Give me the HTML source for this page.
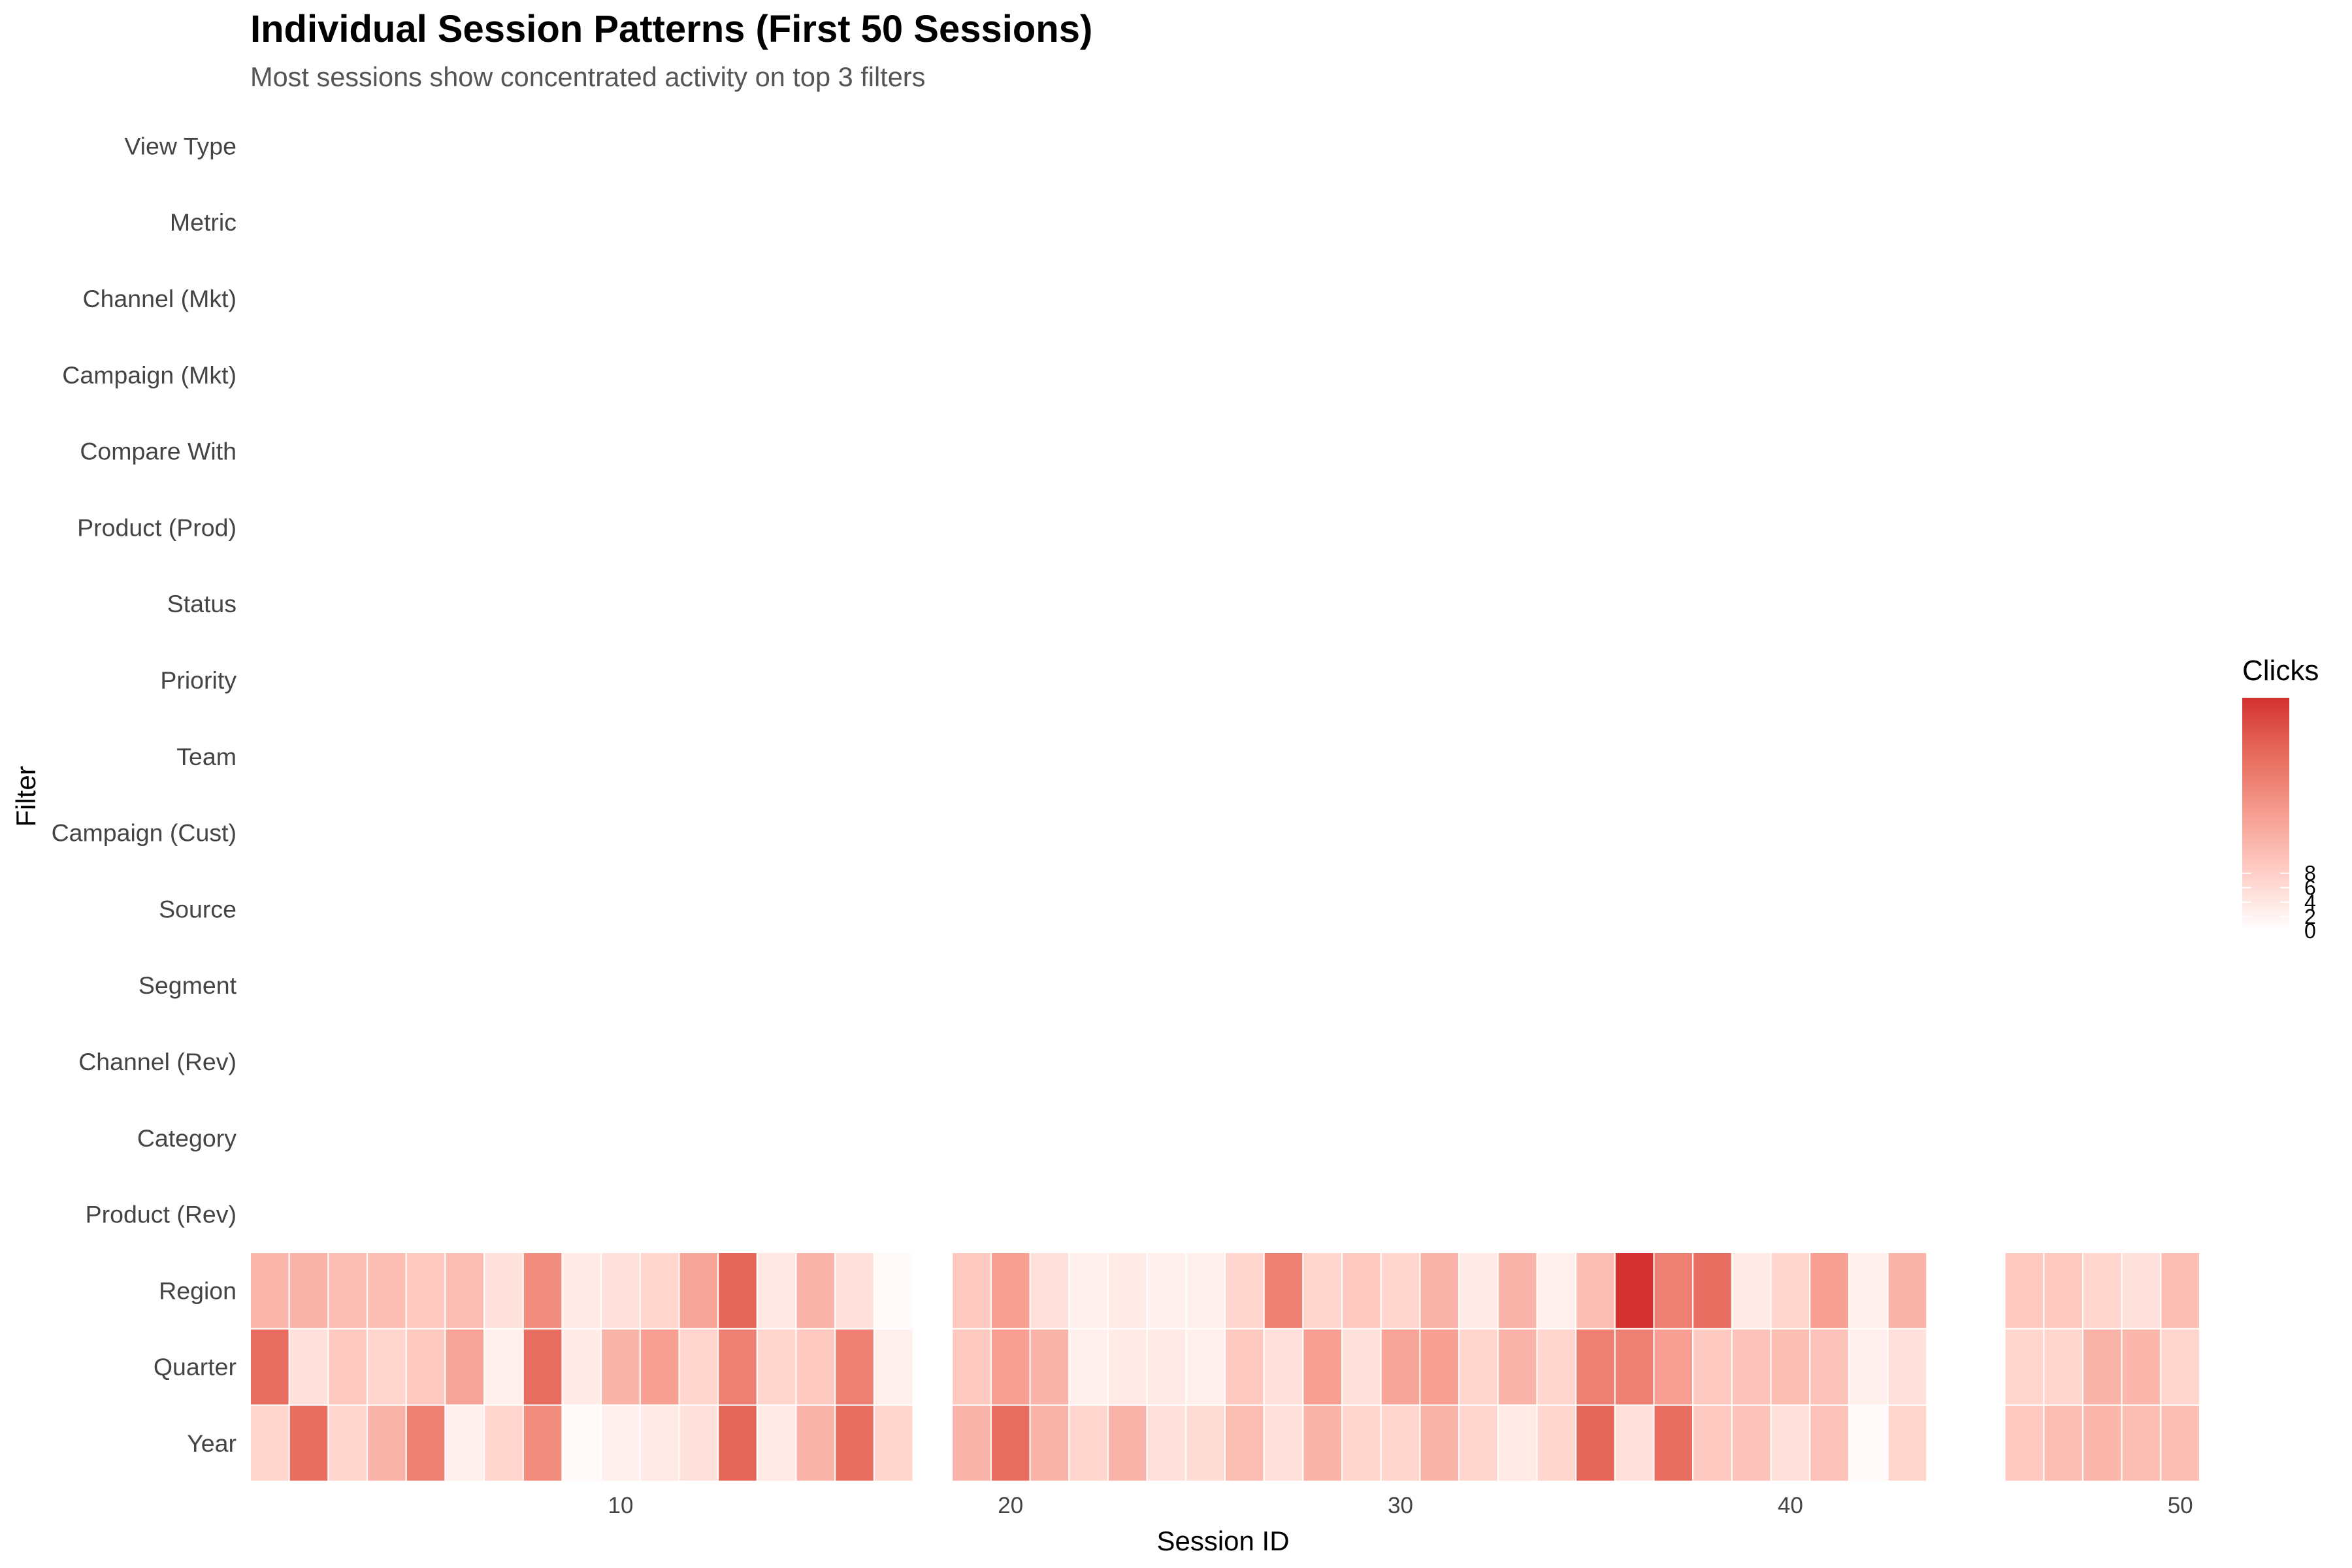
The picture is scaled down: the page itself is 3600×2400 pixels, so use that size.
<!DOCTYPE html>
<html><head><meta charset="utf-8"><style>
html,body{margin:0;padding:0;background:#fff;}
svg{display:block;font-family:"Liberation Sans",Arial,sans-serif;}
</style></head><body>
<svg id="chart" width="3600" height="2400" viewBox="0 0 3600 2400" xmlns="http://www.w3.org/2000/svg">
<text x="383" y="64" font-size="58" font-weight="bold" fill="#000">Individual Session Patterns (First 50 Sessions)</text>
<text x="383" y="132" font-size="41.5" fill="#555">Most sessions show concentrated activity on top 3 filters</text>
<g id="cells"></g>
<g id="ylabels"></g>
<g id="xlabels"></g>
<text x="1872" y="2373" font-size="42" text-anchor="middle" fill="#000">Session ID</text>
<text transform="translate(54,1219) rotate(-90)" font-size="42" text-anchor="middle" fill="#000">Filter</text>
<g id="legend">
<text x="3432" y="1041" font-size="44" fill="#000">Clicks</text>
<defs><linearGradient id="grad" x1="0" y1="1" x2="0" y2="0"></linearGradient></defs>
<rect x="3432" y="1068" width="72" height="357" fill="url(#grad)"/>
<g id="legticks"></g>
</g>
</svg>
<script>
const filters = ["Year","Quarter","Region","Product (Rev)","Category","Channel (Rev)","Segment","Source","Campaign (Cust)","Team","Priority","Status","Product (Prod)","Compare With","Campaign (Mkt)","Channel (Mkt)","Metric","View Type"];
const sessions = [1,2,3,4,5,6,7,8,9,10,11,12,13,14,15,16,17,19,20,21,22,23,24,25,26,27,28,29,30,31,32,33,34,35,36,37,38,39,40,41,42,43,46,47,48,49,50];
const yearClicks    = [7,24,7,12.6,21,2.5,7,19,1,2.5,3.5,5,25,3.5,12.6,24,7, 12.6,24,12.6,7,12.6,5,6,11,5,12.6,7,7,12.6,7,3.5,7,25,5,24,9,10,5,10,1,7, 9,11,12,11,11];
const quarterClicks = [24,5,9,7,9,15,2.5,24,3.5,12.6,16,7,21,7,9,21,2.5, 9,16,12.6,2.5,3.5,3.5,2.5,9,5,16,5,15,16,7,12.6,7,21,21,16,9,10,11,10,2.5,5, 7,7,12.6,12,7];
const regionClicks  = [12,12.6,11,11,9,11,5,19,3.5,5,7,15,25,4,12.6,5,1, 9,16,5,2.5,3.5,2.5,2.5,7,21,7,9,7,12.6,3.5,12.6,2.5,11,32,21,24,3.5,7,16,2.5,12.6, 9,9,7,5,11];
const legendTicks = [0,2,4,6,8];

const NS="http://www.w3.org/2000/svg";
const plotL=383, unitW=59.68, rowH=116.8, yearCenter=2209;
const vmax=32.3;
function xScale(s){return plotL+(s-0.5)*unitW;}
function yScale(i){return yearCenter-i*rowH;}
function toLin(c){c/=255;return c<=0.04045?c/12.92:Math.pow((c+0.055)/1.055,2.4);}
function toSrgb(c){c=c<=0.0031308?12.92*c:1.055*Math.pow(c,1/2.4)-0.055;return Math.max(0,Math.min(255,Math.round(c*255)));}
function rgb2lab(r,g,b){r=toLin(r);g=toLin(g);b=toLin(b);
 let X=(r*0.4124+g*0.3576+b*0.1805)/0.95047,Y=r*0.2126+g*0.7152+b*0.0722,Z=(r*0.0193+g*0.1192+b*0.9505)/1.08883;
 const f=t=>t>0.008856?Math.cbrt(t):7.787*t+16/116;
 return [116*f(Y)-16,500*(f(X)-f(Y)),200*(f(Y)-f(Z))];}
function lab2rgb(L,a,b){const fy=(L+16)/116,fx=fy+a/500,fz=fy-b/200;
 const fi=t=>t*t*t>0.008856?t*t*t:(t-16/116)/7.787;
 let X=fi(fx)*0.95047,Y=fi(fy),Z=fi(fz)*1.08883;
 let r=X*3.2406-Y*1.5372-Z*0.4986,g=-X*0.9689+Y*1.8758+Z*0.0415,bb=X*0.0557-Y*0.2040+Z*1.0570;
 return "rgb("+toSrgb(r)+","+toSrgb(g)+","+toSrgb(bb)+")";}
const lo=rgb2lab(255,255,255), hi=rgb2lab(211,47,47);
function color(v){const t=Math.max(0,Math.min(1,v/vmax));return lab2rgb(lo[0]+(hi[0]-lo[0])*t,lo[1]+(hi[1]-lo[1])*t,lo[2]+(hi[2]-lo[2])*t);}

const cells=document.getElementById('cells');
const series=[yearClicks,quarterClicks,regionClicks];
series.forEach((arr,ri)=>{
 arr.forEach((v,k)=>{
  const r=document.createElementNS(NS,'rect');
  
  
  const x=xScale(sessions[k]-0.5), y=yScale(ri)-rowH/2;
  r.setAttribute('x',x);r.setAttribute('y',y);
  r.setAttribute('width',unitW);r.setAttribute('height',rowH);
  r.setAttribute('fill',color(v));r.setAttribute('stroke','#fff');r.setAttribute('stroke-width','2');
  cells.appendChild(r);
 });
});
const yl=document.getElementById('ylabels');
filters.forEach((f,i)=>{
 const t=document.createElementNS(NS,'text');
 
 
 t.setAttribute('x',362);t.setAttribute('y',yScale(i)+13);
 t.setAttribute('font-size','37.5');t.setAttribute('fill','#444');t.setAttribute('text-anchor','end');
 t.textContent=f;yl.appendChild(t);
});
const xl=document.getElementById('xlabels');
[10,20,30,40,50].forEach(s=>{
 const t=document.createElementNS(NS,'text');
 
 
 t.setAttribute('x',xScale(s));t.setAttribute('y',2316);
 t.setAttribute('font-size','35');t.setAttribute('fill','#444');t.setAttribute('text-anchor','middle');
 t.textContent=s;xl.appendChild(t);
});
const grad=document.getElementById('grad');
for(let i=0;i<=20;i++){const st=document.createElementNS(NS,'stop');st.setAttribute('offset',(i/20));st.setAttribute('stop-color',color(vmax*i/20));grad.appendChild(st);}
const lt=document.getElementById('legticks');
const barB=1425, barH=357;
legendTicks.forEach(v=>{
 const y=barB-v/vmax*barH;
 [[3432,3446],[3490,3504]].forEach(p=>{
  const l=document.createElementNS(NS,'line');
  
  
  l.setAttribute('x1',p[0]);l.setAttribute('x2',p[1]);l.setAttribute('y1',y);l.setAttribute('y2',y);
  l.setAttribute('stroke','#fff');l.setAttribute('stroke-width','2');lt.appendChild(l);
 });
 const t=document.createElementNS(NS,'text');
 
 
 t.setAttribute('x',3527);t.setAttribute('y',y+11);t.setAttribute('font-size','32');t.setAttribute('fill','#000');
 t.textContent=v;lt.appendChild(t);
});
</script>
</body></html>
